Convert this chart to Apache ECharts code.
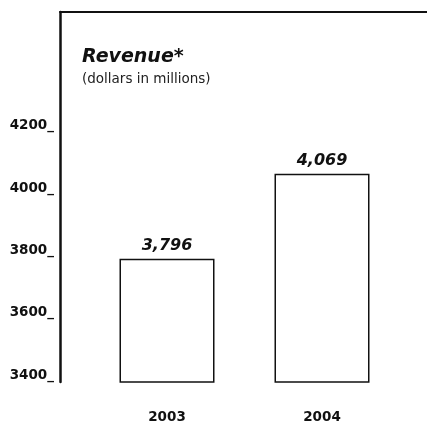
<!DOCTYPE html>
<html>
<head>
<meta charset="utf-8">
<script src="https://cdn.jsdelivr.net/npm/echarts@6/dist/echarts.min.js"></script>
<style>
  html, body { margin: 0; padding: 0; background: #fff; }
  #chart { width: 427px; height: 424px; }
</style>
</head>
<body>
<div id="chart"></div>
<script>
// Annual revenue, dollars in millions
const years = ['2003', '2004'];
const revenue = [3796, 4069];

// Value axis range and tick step
const axisMin = 3400;
const axisMax = 4588;
const axisStep = 200;
const lastTickLabel = 4200;

const ink = '#111';
const fontFamily = '"DejaVu Sans", sans-serif';

const chart = echarts.init(document.getElementById('chart'), null, { renderer: 'canvas' });

chart.setOption({
  backgroundColor: '#fff',
  animation: false,
  title: {
    text: 'Revenue*',
    subtext: '(dollars in millions)',
    left: 77,
    top: 43,
    itemGap: 5,
    textStyle: {
      fontFamily: fontFamily,
      fontSize: 19,
      fontWeight: 'bold',
      fontStyle: 'italic',
      color: ink
    },
    subtextStyle: {
      fontFamily: fontFamily,
      fontSize: 13.5,
      color: '#222'
    }
  },
  grid: [
    // plotting area for the bars
    { left: 89.5, right: 27.5, top: 12, bottom: 42 },
    // frame: left value axis and top rule
    { left: 60, right: 0, top: 12, bottom: 42 }
  ],
  xAxis: [
    {
      gridIndex: 0,
      type: 'category',
      data: years,
      axisLine: { show: false },
      axisTick: { show: false },
      axisLabel: {
        margin: 28,
        fontFamily: fontFamily,
        fontSize: 13.5,
        fontWeight: 'bold',
        color: ink
      }
    },
    {
      gridIndex: 1,
      type: 'value',
      position: 'top',
      min: 0,
      max: 1,
      axisLine: { show: true, lineStyle: { color: ink, width: 2 } },
      axisTick: { show: false },
      axisLabel: { show: false },
      splitLine: { show: false }
    }
  ],
  yAxis: [
    {
      gridIndex: 0,
      type: 'value',
      min: axisMin,
      max: axisMax,
      interval: axisStep,
      show: false
    },
    {
      gridIndex: 1,
      type: 'value',
      min: axisMin,
      max: axisMax,
      interval: axisStep,
      axisLine: { show: true, lineStyle: { color: ink, width: 2.5 } },
      axisTick: { show: false },
      splitLine: { show: false },
      axisLabel: {
        margin: 6,
        verticalAlign: 'bottom',
        fontFamily: fontFamily,
        fontSize: 13.5,
        fontWeight: 'bold',
        color: ink,
        formatter: function (v) {
          return v <= lastTickLabel ? v + '_' : '';
        }
      }
    }
  ],
  series: [
    {
      type: 'bar',
      xAxisIndex: 0,
      yAxisIndex: 0,
      data: revenue,
      barWidth: 95,
      itemStyle: {
        color: '#fff',
        borderColor: ink,
        borderWidth: 1.5
      },
      label: {
        show: true,
        position: 'top',
        distance: 5,
        fontFamily: fontFamily,
        fontSize: 16,
        fontWeight: 'bold',
        fontStyle: 'italic',
        color: ink,
        formatter: function (p) {
          return p.value.toLocaleString('en-US');
        }
      }
    }
  ]
});
</script>
</body>
</html>
